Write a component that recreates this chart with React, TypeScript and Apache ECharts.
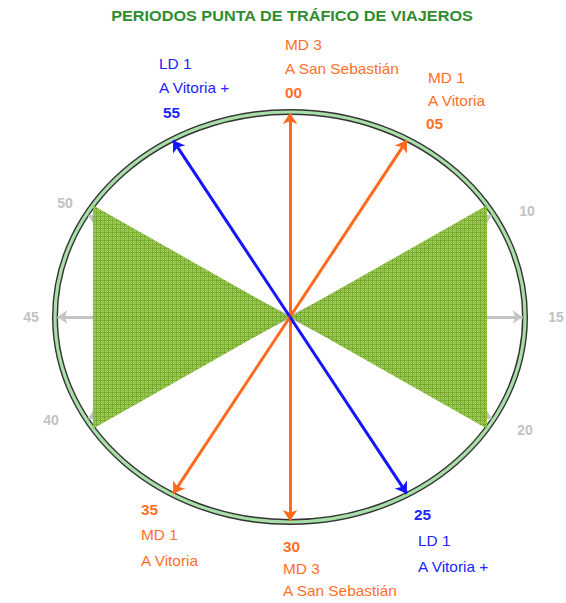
import React, { useEffect, useRef } from 'react';
import * as echarts from 'echarts';

// ---------- data ----------
const chartTitle = 'PERIODOS PUNTA DE TRÁFICO DE VIAJEROS';
const trainMinutes = [0, 5, 55, 30, 35, 25];
const trainNames = ['MD 3', 'MD 1', 'LD 1', 'MD 3', 'MD 1', 'LD 1'];
const trainDest = ['A San Sebastián', 'A Vitoria', 'A Vitoria +', 'A San Sebastián', 'A Vitoria', 'A Vitoria +'];
const trainType = ['MD', 'MD', 'LD', 'MD', 'MD', 'LD'];
const trainMinuteLabels = ['00', '05', '55', '30', '35', '25'];
const otherMinutes = [10, 15, 20, 40, 45, 50];
const otherMinuteLabels = ['10', '15', '20', '40', '45', '50'];
const peakPeriods = [
  [9.5, 20.5],
  [39.5, 50.5],
];

// ---------- layout / style (not data) ----------
const RX = 235;
const RY = 205;
const CX = 290;
const CY = 317;
const XR = 1.15;
const YR = 1.39;
const FONT = '"Liberation Sans", Arial, sans-serif';
const typeColor: Record<string, string> = { MD: '#ff6a1c', LD: '#1414ff' };
const textColor: Record<string, string> = { MD: '#ff6f2a', LD: '#2323ff' };
const GRAY = '#c4c4c4';
// offset of label block (left edge, centre of the line next to the arrow) from the ellipse point
const trainLabelOffset = [
  [-5, -19],
  [20.5, -15.5],
  [-13.5, -26.5],
  [-7, 25],
  [-31.5, 15.5],
  [10.5, 20.5],
];
const trainLabelGap = [24, 23, 24.5, 22, 25.5, 26];
const trainMinuteIndent = [0, -2, 4, 0, 0, -4];
const otherLabelOffset = [
  [33.5, -3.5],
  [31, 0],
  [31.5, 10.5],
  [-35.5, 0.5],
  [-24, 0],
  [-21.5, -11.5],
];

const pointAt = (minute: number, r = 1) => {
  const a = (minute * Math.PI) / 30;
  return [r * Math.sin(a), r * Math.cos(a)];
};

export default function App() {
  const ref = useRef<HTMLDivElement>(null);
  useEffect(() => {
    if (!ref.current) return;
    const chart = echarts.init(ref.current, undefined, { renderer: 'svg' });

    // hatch pattern tile for the peak-period wedges
    const tile = document.createElement('canvas');
    tile.width = 4;
    tile.height = 4;
    const g = tile.getContext('2d');
    let wedgeFill: any = '#7fb233';
    if (g) {
      g.fillStyle = '#9ecb5a';
      g.fillRect(0, 0, 4, 4);
      g.fillStyle = '#68a212';
      g.fillRect(0, 0, 1, 4);
      g.fillRect(0, 0, 4, 1);
      g.fillStyle = '#84b93a';
      g.fillRect(2, 0, 1, 4);
      g.fillRect(0, 2, 4, 1);
      wedgeFill = { image: tile, repeat: 'repeat' };
    }

    const left = CX - XR * RX;
    const width = 2 * XR * RX;
    const top = CY - YR * RY;
    const height = 2 * YR * RY;

    const option: any = {
      animation: false,
      backgroundColor: '#ffffff',
      grid: { left, top, right: 566 - left - width, bottom: 603 - top - height, containLabel: false },
      xAxis: { type: 'value', min: -XR, max: XR, show: false },
      yAxis: { type: 'value', min: -YR, max: YR, show: false },
      graphic: [
        {
          type: 'text',
          x: 292,
          y: 16,
          scaleX: 1.16,
          style: {
            text: chartTitle,
            font: `bold 14px ${FONT}`,
            fill: '#2f8c2f',
            align: 'center',
            verticalAlign: 'middle',
          },
        },
      ],
      series: [
        // clock ring
        {
          type: 'custom',
          z: 1,
          silent: true,
          data: [[0, 0]],
          renderItem: (_p: any, api: any) => {
            const c = api.coord([0, 0]);
            const s = api.size([1, 1]);
            return {
              type: 'group',
              children: [
                {
                  type: 'ellipse',
                  shape: { cx: c[0], cy: c[1], rx: s[0], ry: s[1] },
                  style: { fill: 'none', stroke: '#333333', lineWidth: 6 },
                },
                {
                  type: 'ellipse',
                  shape: { cx: c[0], cy: c[1], rx: s[0], ry: s[1] },
                  style: { fill: 'none', stroke: '#a8dea8', lineWidth: 3.2 },
                },
              ],
            };
          },
        },
        // gray minute arrows
        {
          type: 'lines',
          coordinateSystem: 'cartesian2d',
          z: 2,
          silent: true,
          symbol: ['none', 'arrow'],
          symbolSize: 10,
          lineStyle: { color: GRAY, width: 3, opacity: 1 },
          data: otherMinutes.map((m) => ({ coords: [[0, 0], pointAt(m, 0.99)] })),
        },
        // peak period wedges
        {
          type: 'custom',
          z: 3,
          silent: true,
          data: peakPeriods,
          renderItem: (_p: any, api: any) => {
            const c0 = api.coord([0, 0]);
            const p1 = api.coord(pointAt(api.value(0)));
            const p2 = api.coord(pointAt(api.value(1)));
            return {
              type: 'polygon',
              shape: { points: [c0, p1, p2] },
              style: { fill: wedgeFill, stroke: 'none', opacity: 0.93 },
            };
          },
        },
        // train arrows
        {
          type: 'lines',
          coordinateSystem: 'cartesian2d',
          z: 4,
          silent: true,
          symbol: ['none', 'arrow'],
          symbolSize: 11,
          lineStyle: { width: 3, opacity: 1 },
          data: trainMinutes.map((m, i) => ({
            coords: [[0, 0], pointAt(m, 0.995)],
            lineStyle: { color: typeColor[trainType[i]], width: 3, opacity: 1 },
          })),
        },
        // gray minute labels
        {
          type: 'custom',
          z: 5,
          silent: true,
          data: otherMinutes.map((m) => pointAt(m)),
          renderItem: (p: any, api: any) => {
            const i = p.dataIndex;
            const c = api.coord([api.value(0), api.value(1)]);
            const o = otherLabelOffset[i];
            return {
              type: 'text',
              x: c[0] + o[0],
              y: c[1] + o[1],
              style: {
                text: otherMinuteLabels[i],
                font: `bold 14px ${FONT}`,
                fill: '#c2c2c2',
                align: 'center',
                verticalAlign: 'middle',
              },
            };
          },
        },
        // train labels
        {
          type: 'custom',
          z: 5,
          silent: true,
          data: trainMinutes.map((m) => pointAt(m)),
          renderItem: (p: any, api: any) => {
            const i = p.dataIndex;
            const y = api.value(1);
            const c = api.coord([api.value(0), y]);
            const upper = y > 0;
            const min = trainMinuteLabels[i];
            const lines = upper ? [trainNames[i], trainDest[i], min] : [min, trainNames[i], trainDest[i]];
            const gap = trainLabelGap[i];
            const o = trainLabelOffset[i];
            const startY = upper ? c[1] + o[1] - 2 * gap : c[1] + o[1];
            const color = textColor[trainType[i]];
            return {
              type: 'group',
              children: lines.map((t, k) => {
                const isMin = t === min;
                return {
                  type: 'text',
                  x: c[0] + o[0] + (isMin ? trainMinuteIndent[i] : 0),
                  y: startY + k * gap,
                  scaleX: 1.1,
                  style: {
                    text: t,
                    font: `${isMin ? 'bold ' : ''}14px ${FONT}`,
                    fill: color,
                    align: 'left',
                    verticalAlign: 'middle',
                  },
                };
              }),
            };
          },
        },
      ],
    };
    chart.setOption(option);
    return () => chart.dispose();
  }, []);
  return (
    <div
      ref={ref}
      style={{ position: 'fixed', left: 0, top: 0, width: 566, height: 603, background: '#fff' }}
    />
  );
}
